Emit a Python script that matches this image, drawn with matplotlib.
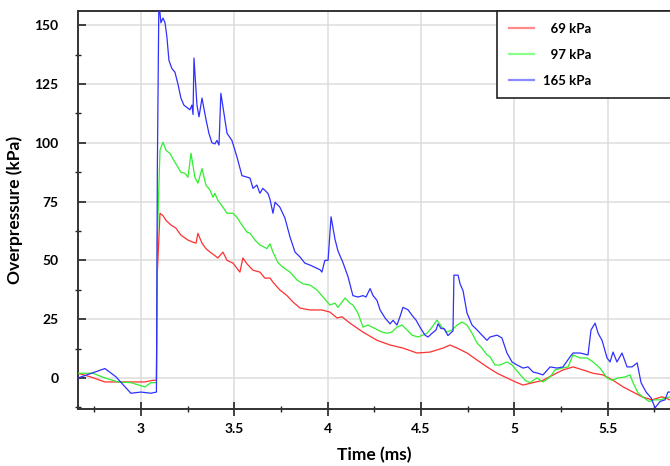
import matplotlib
matplotlib.use('Agg')
import matplotlib.pyplot as plt
from matplotlib.ticker import MultipleLocator
from matplotlib.lines import Line2D

plt.rcParams['font.family'] = ['Lato', 'DejaVu Sans']
plt.rcParams['font.weight'] = 'bold'

# ---------------- data (time in ms, overpressure in kPa) ----------------
labels = ['\u200769 kPa', '\u200797 kPa', '165 kPa']

t_165 = [2.663, 2.700, 2.807, 2.866, 2.946, 3.000, 3.054, 3.083, 3.088, 3.096,
         3.107, 3.118, 3.129, 3.139, 3.150, 3.166, 3.182, 3.198, 3.214, 3.230,
         3.246, 3.262, 3.273, 3.279, 3.284, 3.300, 3.311, 3.327, 3.348, 3.364,
         3.380, 3.396, 3.407, 3.418, 3.428, 3.461, 3.487, 3.514, 3.541, 3.584,
         3.600, 3.621, 3.637, 3.653, 3.680, 3.691, 3.707, 3.718, 3.744, 3.771,
         3.798, 3.825, 3.852, 3.878, 3.905, 3.932, 3.959, 3.969, 3.985, 4.002,
         4.018, 4.039, 4.055, 4.082, 4.109, 4.135, 4.162, 4.189, 4.205, 4.227,
         4.243, 4.264, 4.280, 4.307, 4.334, 4.350, 4.371, 4.387, 4.403, 4.430,
         4.451, 4.473, 4.494, 4.521, 4.537, 4.559, 4.580, 4.591, 4.607, 4.623,
         4.644, 4.671, 4.676, 4.698, 4.709, 4.725, 4.746, 4.773, 4.800, 4.826,
         4.853, 4.869, 4.907, 4.933, 4.960, 4.987, 5.014, 5.046, 5.073, 5.100,
         5.126, 5.153, 5.191, 5.228, 5.260, 5.298, 5.314, 5.351, 5.394, 5.410,
         5.432, 5.448, 5.469, 5.496, 5.512, 5.528, 5.549, 5.576, 5.603, 5.630,
         5.657, 5.678, 5.705, 5.732, 5.753, 5.780, 5.806, 5.822, 5.833]
p_165 = [0, 1, 4, 0.5, -6.5, -6, -6.5, -6, 90, 160,
         151, 153, 151, 145, 135, 131.5, 130, 125, 119, 116,
         115, 114, 116, 112, 136, 116, 111, 119, 110, 104,
         100, 99.5, 101, 99, 121, 104, 101, 94, 86, 85,
         80.6, 82, 78.5, 80.6, 78.5, 76, 70, 74.7, 72.6, 68,
         60, 53.5, 51.4, 48.8, 48, 47, 46, 45, 50, 50,
         68.5, 59, 54, 49, 43, 35, 34.4, 35, 34.4, 38,
         35, 33, 29, 25.5, 23, 24.5, 22.5, 26, 30, 29,
         26.7, 24.6, 21.6, 18.2, 17.4, 19, 20.4, 23, 21, 21,
         18, 20, 43.7, 43.7, 40, 37, 27.6, 22.5, 20.4, 18.2,
         16, 17.4, 18.2, 17, 10.6, 6.8, 5.5, 4.2, 4.7, 2.5,
         2, 1.3, 4.7, 4.2, 4.7, 9, 10.6, 10.6, 9.8, 20.4,
         23.3, 19, 16, 8.5, 6.8, 11, 6.8, 10.6, 4.7, 4.7,
         6.4, -2, -6, -8.5, -12.7, -10, -9.3, -6, -6]

t_97 = [2.663, 2.743, 2.807, 2.877, 2.946, 3.021, 3.054, 3.083, 3.088, 3.102,
        3.118, 3.134, 3.155, 3.182, 3.198, 3.214, 3.236, 3.252, 3.268, 3.289,
        3.305, 3.327, 3.348, 3.370, 3.386, 3.396, 3.412, 3.439, 3.461, 3.493,
        3.514, 3.541, 3.568, 3.584, 3.611, 3.637, 3.675, 3.691, 3.707, 3.734,
        3.761, 3.798, 3.836, 3.868, 3.905, 3.943, 3.975, 4.012, 4.039, 4.055,
        4.093, 4.119, 4.135, 4.162, 4.189, 4.216, 4.253, 4.291, 4.318, 4.344,
        4.371, 4.398, 4.425, 4.451, 4.484, 4.532, 4.559, 4.585, 4.612, 4.639,
        4.666, 4.693, 4.719, 4.746, 4.773, 4.800, 4.826, 4.853, 4.869, 4.896,
        4.923, 4.960, 4.987, 5.019, 5.057, 5.083, 5.121, 5.153, 5.191, 5.217,
        5.255, 5.287, 5.314, 5.351, 5.389, 5.421, 5.458, 5.496, 5.523, 5.555,
        5.592, 5.619, 5.635, 5.662, 5.694, 5.721, 5.753, 5.780, 5.833]
p_97 = [2, 2, 0, -1.7, -2, -3.8, -2, -2, 60, 96.8,
        100.2, 96.8, 95.5, 91.7, 89.6, 87.4, 87, 85.3, 95.5, 85.3,
        82.8, 89, 82, 79.8, 76.8, 78.5, 75.5, 72.6, 70, 70,
        68.3, 65, 62, 61.5, 58.6, 56.5, 55, 57, 53.5, 49,
        47, 45, 41.6, 40, 39.5, 37.4, 34.4, 31, 31.8, 30,
        34, 31.8, 31, 27.6, 21.6, 22.5, 21, 19.5, 19, 19.5,
        21.6, 22.5, 20.4, 18.2, 17.4, 19, 21.6, 24.6, 21.6, 19.5,
        20.4, 22.5, 23.8, 22.5, 19, 14.9, 12.7, 9.8, 9, 5.5,
        5.5, 6.8, 5.5, 2.5, -1, -2, 0, -1.7, 0.4, 3.4,
        4.2, 4.7, 9.8, 8.5, 8.5, 6.8, 4.2, 0, -1, 0,
        0.4, 1.3, -2, -6.4, -8.5, -10, -9.3, -9.3, -8]

t_69 = [2.663, 2.732, 2.807, 2.877, 2.946, 3.021, 3.064, 3.083, 3.088, 3.102,
        3.118, 3.134, 3.161, 3.187, 3.214, 3.252, 3.279, 3.295, 3.305, 3.327,
        3.348, 3.370, 3.396, 3.412, 3.439, 3.461, 3.493, 3.530, 3.546, 3.568,
        3.600, 3.637, 3.664, 3.691, 3.707, 3.744, 3.782, 3.814, 3.852, 3.905,
        3.969, 4.012, 4.050, 4.077, 4.119, 4.189, 4.264, 4.334, 4.403, 4.478,
        4.548, 4.618, 4.655, 4.693, 4.746, 4.800, 4.853, 4.907, 4.960, 5.014,
        5.046, 5.100, 5.153, 5.207, 5.260, 5.314, 5.367, 5.421, 5.474, 5.528,
        5.582, 5.635, 5.683, 5.737, 5.790, 5.833]
p_69 = [2, 0.4, -1.7, -1.7, -1.7, -1.7, -1, -1, 45, 70,
        69, 67, 65, 63.7, 60.7, 58.6, 57.7, 57.3, 61.5, 57.3,
        55, 53.5, 52, 51, 53.5, 50, 48.8, 45, 51, 48.5,
        45.8, 45, 42.4, 42.5, 40.7, 37.4, 35, 32.3, 29.7, 28.9,
        28.9, 28, 25.5, 26, 23.3, 19.5, 16, 14, 12.7, 10.6,
        11, 12.7, 14, 12.7, 10.6, 7.6, 4.7, 2, 0, -2,
        -3, -2, -1, 1.3, 3.4, 4.7, 3.4, 2, 1.3, -1,
        -3.8, -6, -8, -9.3, -8, -9.3]

x_ticks = [3, 3.5, 4, 4.5, 5, 5.5]
x_ticklabels = ['3', '3.5', '4', '4.5', '5', '5.5']
y_ticks = [0, 25, 50, 75, 100, 125, 150]

# ---------------- figure ----------------
fig = plt.figure(figsize=(6.7, 4.66), dpi=100)
ax = fig.add_axes([78 / 670, 1 - 409 / 466, 1 - 78 / 670, (409 - 11) / 466])

c_red, c_green, c_blue = '#ff3030', '#30ee30', '#3030ff'
ax.plot(t_69, p_69, color=c_red, lw=0.9, zorder=3)
ax.plot(t_97, p_97, color=c_green, lw=0.9, zorder=3)
ax.plot(t_165, p_165, color=c_blue, lw=0.9, zorder=3)

ax.set_xlim(2.663, 5.833)
ax.set_ylim(-13.2, 156)

ax.set_xticks(x_ticks)
ax.set_xticklabels(x_ticklabels)
ax.set_yticks(y_ticks)
ax.xaxis.set_minor_locator(MultipleLocator(0.25))
ax.yaxis.set_minor_locator(MultipleLocator(12.5))

ax.grid(True, which='major', color='#dcdcdc', lw=1.1, zorder=0)
ax.set_axisbelow(True)

ax.tick_params(axis='x', which='major', direction='inout', length=10, width=1.2,
               color='#222222', labelsize=10, pad=5)
ax.tick_params(axis='x', which='minor', direction='inout', length=5, width=1.0,
               color='#222222')
ax.tick_params(axis='y', which='major', direction='in', length=6, width=1.2,
               color='#222222', labelsize=10, pad=14)
ax.tick_params(axis='y', which='minor', direction='inout', length=5, width=1.0,
               color='#222222')
for lab in ax.get_xticklabels() + ax.get_yticklabels():
    lab.set_fontweight('bold')

for side in ['left', 'bottom', 'top']:
    ax.spines[side].set_color('#333333')
    ax.spines[side].set_linewidth(1.4)
ax.spines['right'].set_visible(False)

ax.set_xlabel('Time (ms)', fontsize=12.5, fontweight='bold', labelpad=9)
ax.set_ylabel('Overpressure (kPa)', fontsize=12.5, fontweight='bold', labelpad=8)

handles = [Line2D([], [], color='#ff8a8a', lw=1.6),
           Line2D([], [], color='#8aff8a', lw=1.6),
           Line2D([], [], color='#8a8aff', lw=1.6)]
x0 = (497 - 78) / 592
h = (92 - 11) / 398
leg = ax.legend(handles, labels, loc='upper left', mode='expand',
                bbox_to_anchor=(x0, 1 - h, 0.5, h), borderaxespad=0,
                frameon=True, fancybox=False, edgecolor='#222222',
                framealpha=1, prop={'size': 9.5, 'weight': 'bold'},
                handlelength=1.9, handletextpad=0.7, labelspacing=1.05,
                borderpad=0.9)
leg.get_frame().set_linewidth(1.2)

fig.savefig('out.png', dpi=100)
